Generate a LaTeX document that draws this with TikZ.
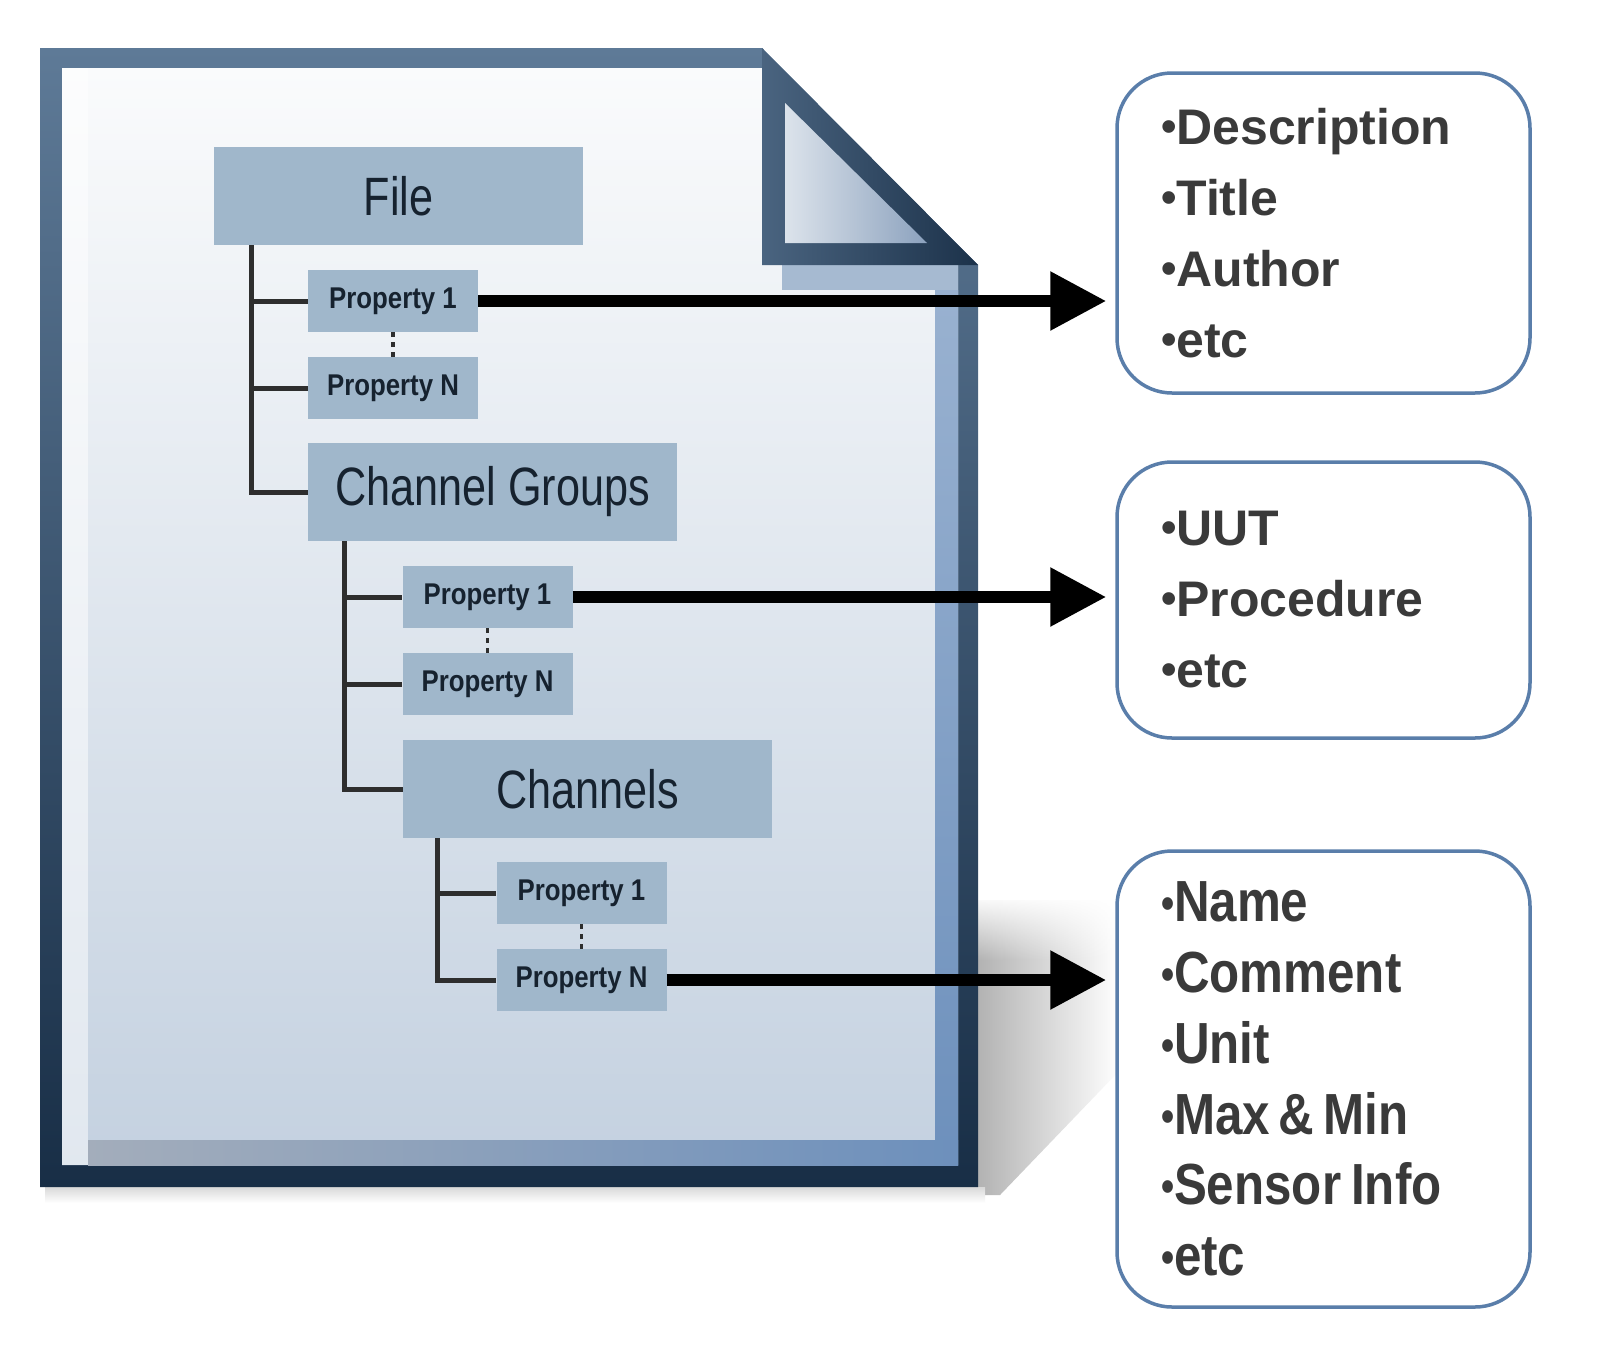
\documentclass[tikz,border=0pt]{standalone}
\usepackage{fontspec}
\setmainfont{Liberation Sans}
\newfontfamily\treefont[FakeStretch=0.8]{Liberation Sans}
\newfontfamily\propfont[FakeStretch=0.86]{Liberation Sans}
\newfontfamily\condfont[FakeStretch=0.85]{Liberation Sans}
\usetikzlibrary{arrows.meta,fadings,calc}
\definecolor{frameTop}{HTML}{5E7A97}
\definecolor{frameBot}{HTML}{182E46}
\definecolor{pageTop}{HTML}{FAFBFC}
\definecolor{pageBot}{HTML}{C4D1E0}
\definecolor{stripBlue}{HTML}{6D90BC}
\definecolor{stripGray}{HTML}{A3ADBB}
\definecolor{foldDarkA}{HTML}{4A6480}
\definecolor{foldDarkB}{HTML}{1C324A}
\definecolor{foldLightA}{HTML}{DCE3EB}
\definecolor{foldLightB}{HTML}{8CA2BE}
\definecolor{underFold}{HTML}{A6BAD1}
\definecolor{boxBlue}{HTML}{A0B7CB}
\definecolor{treeText}{HTML}{16222F}
\definecolor{lineDark}{HTML}{2E2E2E}
\definecolor{edgeBlue}{HTML}{5A7EAA}
\definecolor{textGray}{HTML}{3A3A3A}
\newcommand\mybul{{\fontsize{44}{44}\selectfont\raisebox{3pt}{•}}}
\tikzset{
  treebox/.style={fill=boxBlue, inner sep=0pt, text=treeText},
  bigbox/.style={treebox, minimum width=369pt, minimum height=98pt, font=\treefont\fontsize{54}{60}\selectfont},
  propbox/.style={treebox, minimum width=170pt, minimum height=62pt, font=\propfont\bfseries\fontsize{30}{34}\selectfont},
  treeline/.style={draw=lineDark, line width=5pt},
  dotcon/.style={draw=lineDark, line width=3.5pt, dash pattern=on 5pt off 5pt},
  bigarrow/.style={draw=black, line width=12pt, -{Triangle[length=56pt,width=56pt]}, shorten >=9pt},
  rbox/.style={draw=edgeBlue, line width=3.5pt, rounded corners=55pt, fill=white,
    inner xsep=44pt, inner ysep=0pt, text width=325pt, align=left, text=textGray}
}
\begin{document}
\begin{tikzpicture}[x=1pt,y=-1pt]
\useasboundingbox (0,0) rectangle (1600,1347);
\fill[white] (0,0) rectangle (1600,1347);
% drop shadow right of the document
\shade[left color=gray!60, right color=white] (978,900) -- (1120,900) -- (1120,1070) -- (1000,1195) -- (978,1195) -- cycle;
\fill[white, path fading=south] (978,895) rectangle (1122,960);
\shade[top color=gray!30, bottom color=white] (45,1187) rectangle (985,1203);
% document frame
\shade[top color=frameTop, bottom color=frameBot] (40,48) -- (762,48) -- (978,265) -- (978,1187) -- (40,1187) -- cycle;
% page interior
\shade[top color=pageTop, bottom color=pageBot] (62,68) -- (762,68) -- (762,265) -- (958,265) -- (958,1165) -- (62,1165) -- cycle;
\fill[white, opacity=0.5] (62,68) rectangle (88,1165);
\fill[underFold] (782,265) rectangle (958,290);
\shade[top color=stripBlue!70, bottom color=stripBlue] (935,290) rectangle (958,1165);
\shade[left color=stripGray, right color=stripBlue] (88,1140) rectangle (958,1165);
% folded corner
\shade[shading angle=45, left color=foldDarkA, right color=foldDarkB] (762,48) -- (978,265) -- (762,265) -- cycle;
\shade[shading angle=45, left color=foldLightA, right color=foldLightB] (785,103) -- (927,243) -- (785,243) -- cycle;
% tree nodes
\node[bigbox] (file) at (398.5,196) {File};
\node[propbox] (fp1) at (393,301) {Property 1};
\node[propbox] (fpn) at (393,388) {Property N};
\node[bigbox] (cg) at (492.5,492) {Channel Groups};
\node[propbox] (gp1) at (487.5,597) {Property 1};
\node[propbox] (gpn) at (487.5,684) {Property N};
\node[bigbox] (ch) at (587.5,789) {Channels};
\node[propbox] (cp1) at (581.5,893) {Property 1};
\node[propbox] (cpn) at (581.5,980) {Property N};
% tree connectors
\coordinate (t1) at ($(file.south west)+(38,0)$);
\coordinate (t2) at ($(cg.south west)+(37,0)$);
\coordinate (t3) at ($(ch.south west)+(35,0)$);
\draw[treeline] (t1) |- (cg.west);
\draw[treeline] (t1 |- fp1.west) -- (fp1.west);
\draw[treeline] (t1 |- fpn.west) -- (fpn.west);
\draw[treeline] (t2) |- (ch.west);
\draw[treeline] (t2 |- gp1.west) -- (gp1.west);
\draw[treeline] (t2 |- gpn.west) -- (gpn.west);
\draw[treeline] (t3) |- (cpn.west);
\draw[treeline] (t3 |- cp1.west) -- (cp1.west);
\draw[dotcon] (fp1.south) -- (fpn.north);
\draw[dotcon] (gp1.south) -- (gpn.north);
\draw[dotcon] (cp1.south) -- (cpn.north);
% right boxes
\node[rbox, minimum height=320pt, font=\bfseries\fontsize{50}{71}\selectfont] (box1) at (1323.5,233)
  {\mybul Description\\\mybul Title\\\mybul Author\\\mybul etc};
\node[rbox, minimum height=276pt, font=\bfseries\fontsize{50}{71}\selectfont] (box2) at (1323.5,600)
  {\mybul UUT\\\mybul Procedure\\\mybul etc};
\node[rbox, minimum height=456pt, font=\condfont\bfseries\fontsize{58}{70.8}\selectfont] (box3) at (1323.5,1079)
  {\mybul Name\\\mybul Comment\\\mybul Unit\\\mybul Max\hspace{9pt}\&\hspace{9pt}Min\\\mybul Sensor\hspace{10pt}Info\\\mybul etc};
% arrows
\draw[bigarrow] (fp1.east) -- (fp1.east -| box1.west);
\draw[bigarrow] (gp1.east) -- (gp1.east -| box2.west);
\draw[bigarrow] (cpn.east) -- (cpn.east -| box3.west);
\end{tikzpicture}
\end{document}
